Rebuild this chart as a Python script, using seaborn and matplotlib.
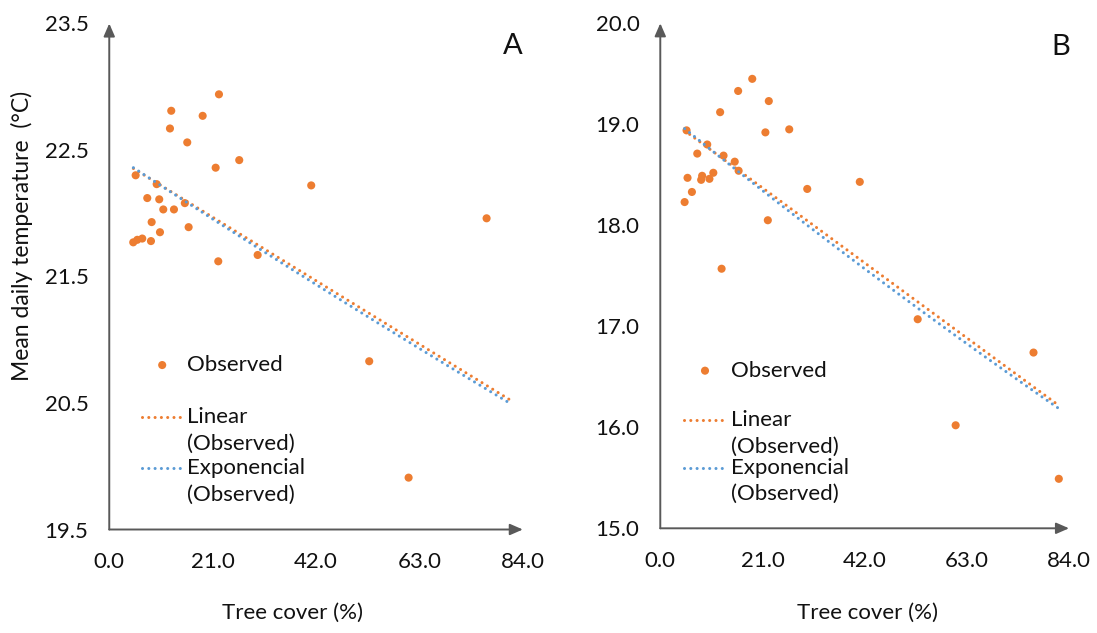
import numpy as np
import pandas as pd
import matplotlib
matplotlib.use("Agg")
import matplotlib.pyplot as plt
import seaborn as sns

# ---- data -------------------------------------------------------------
# Panel A: tree cover (%) and mean daily temperature (°C)
cover_a = [4.87, 5.69, 6.70, 8.47, 5.36, 9.63, 7.72, 10.15, 10.97, 13.14,
           8.61, 10.30, 16.12, 15.35, 12.59, 12.33, 18.97, 15.84, 22.28, 21.61,
           26.40, 30.14, 22.14, 41.02, 76.64, 52.80, 60.80]
temp_a = [21.77, 21.79, 21.80, 21.78, 22.30, 22.23, 22.12, 22.11, 22.03, 22.03,
          21.93, 21.85, 21.89, 22.08, 22.81, 22.67, 22.77, 22.56, 22.94, 22.36,
          22.42, 21.67, 21.62, 22.22, 21.96, 20.83, 19.91]

# Panel B
cover_b = [18.9, 16.0, 22.3, 12.3, 5.4, 21.6, 26.5, 9.65, 7.6, 13.0,
           15.3, 16.1, 10.9, 8.6, 8.4, 10.1, 5.6, 6.5, 5.0, 30.2,
           22.1, 12.6, 52.9, 76.7, 60.7, 81.9, 41.0]
temp_b = [19.45, 19.33, 19.23, 19.12, 18.94, 18.92, 18.95, 18.80, 18.71, 18.69,
          18.63, 18.54, 18.52, 18.49, 18.45, 18.46, 18.47, 18.33, 18.23, 18.36,
          18.05, 17.57, 17.07, 16.74, 16.02, 15.49, 18.43]

# Trendlines: linear y = a + b*x ; exponential y = c * exp(k*x)
linear_a = [22.471, -0.02391]
expo_a = [22.485, -0.001137]
span_a = [4.9, 81.7]
linear_b = [19.114, -0.03538]
expo_b = [19.153, -0.002055]
span_b = [5.0, 81.9]

x_ticks = [0.0, 21.0, 42.0, 63.0, 84.0]
y_ticks_a = [19.5, 20.5, 21.5, 22.5, 23.5]
y_ticks_b = [15.0, 16.0, 17.0, 18.0, 19.0, 20.0]

panel_labels = ["A", "B"]
x_title = "Tree cover (%)"
y_title = "Mean daily temperature  (°C)"
key_labels = ["Observed", "Linear", "(Observed)", "Exponencial", "(Observed)"]

# ---- style --------------------------------------------------------------
sns.set_style("white")
plt.rcParams["font.family"] = ["Lato", "DejaVu Sans"]
ORANGE = "#ED7D31"
BLUE = "#5B9BD5"
AXIS = "#595959"
TICK = "#7f7f7f"
TXT = "#111111"
FS = 16

fig = plt.figure(figsize=(10.97, 6.33), dpi=100)
ax_a = fig.add_axes([0.0996, 0.1635, 0.3770, 0.7994])
ax_b = fig.add_axes([0.6019, 0.1654, 0.3726, 0.7978])

DOT = dict(linestyle=(0, (0.01, 2.05)), dash_capstyle="round", linewidth=2.2)
MS = 34


def draw_panel(ax, cover, temp, lin, expo, span, yticks):
    df = pd.DataFrame({"cover": cover, "temp": temp})
    sns.scatterplot(data=df, x="cover", y="temp", ax=ax, color=ORANGE,
                    s=MS, edgecolor="none", linewidth=0, zorder=2, legend=False)
    xs = np.linspace(span[0], span[1], 200)
    lin_df = pd.DataFrame({"x": xs, "y": lin[0] + lin[1] * xs})
    exp_df = pd.DataFrame({"x": xs, "y": expo[0] * np.exp(expo[1] * xs)})
    sns.lineplot(data=lin_df, x="x", y="y", ax=ax, color=ORANGE, errorbar=None,
                 zorder=3, **DOT)
    sns.lineplot(data=exp_df, x="x", y="y", ax=ax, color=BLUE, errorbar=None,
                 zorder=4, **DOT)

    ax.set_xlim(0, 84)
    ax.set_ylim(yticks[0], yticks[-1])
    ax.set_xticks(x_ticks)
    ax.set_xticklabels([f"{v:.1f}" for v in x_ticks])
    ax.set_yticks(yticks)
    ax.set_yticklabels([f"{v:.1f}" for v in yticks])
    ax.tick_params(axis="both", direction="out", length=5.5, width=1.0,
                   color=TICK, labelsize=FS, labelcolor=TXT, pad=9.5)
    ax.tick_params(axis="x", pad=11)
    for side in ["top", "right", "left", "bottom"]:
        ax.spines[side].set_visible(False)
    ax.set_xlabel("")
    ax.set_ylabel("")
    ax.grid(False)

    arrow = dict(arrowstyle="-|>,head_length=0.55,head_width=0.24",
                 color=AXIS, lw=1.4, shrinkA=0, shrinkB=0, mutation_scale=14)
    ax.annotate("", xy=(0, 1), xytext=(0, 0), xycoords="axes fraction",
                textcoords="axes fraction", arrowprops=arrow,
                annotation_clip=False)
    ax.annotate("", xy=(1, 0), xytext=(0, 0), xycoords="axes fraction",
                textcoords="axes fraction", arrowprops=arrow,
                annotation_clip=False)


def draw_key(ax, mx, my, tx, rows, lx):
    tr = ax.transAxes
    ax.scatter([mx], [my], s=MS, color=ORANGE, edgecolor="none",
               transform=tr, clip_on=False, zorder=5)
    ys = [my] + rows
    for lab, y in zip(key_labels, ys):
        ax.text(tx, y, lab, transform=tr, fontsize=FS, color=TXT,
                ha="left", va="center")
    ax.plot(lx, [rows[0], rows[0]], color=ORANGE, transform=tr,
            clip_on=False, **DOT)
    ax.plot(lx, [rows[2], rows[2]], color=BLUE, transform=tr,
            clip_on=False, **DOT)


draw_panel(ax_a, cover_a, temp_a, linear_a, expo_a, span_a, y_ticks_a)
draw_panel(ax_b, cover_b, temp_b, linear_b, expo_b, span_b, y_ticks_b)

draw_key(ax_a, 0.128, 0.325, 0.1886, [0.2223, 0.169, 0.1221, 0.0682],
         [0.0783, 0.1765])
draw_key(ax_b, 0.1094, 0.3121, 0.1723, [0.2145, 0.1616, 0.1188, 0.0679],
         [0.058, 0.1594])

ax_a.text(0.976, 0.956, panel_labels[0], transform=ax_a.transAxes,
          fontsize=21, ha="center", va="center", color=TXT)
ax_b.text(0.980, 0.953, panel_labels[1], transform=ax_b.transAxes,
          fontsize=21, ha="center", va="center", color=TXT)

ax_a.set_xlabel(x_title, fontsize=FS, color=TXT)
ax_a.xaxis.set_label_coords(0.443, -0.165)
ax_b.set_xlabel(x_title, fontsize=FS, color=TXT)
ax_b.xaxis.set_label_coords(0.506, -0.168)
ax_a.set_ylabel(y_title, fontsize=FS + 0.5, color=TXT)
ax_a.yaxis.set_label_coords(-0.211, 0.58)
for ax in (ax_a, ax_b):
    ax.xaxis.label.set_verticalalignment("center")
    ax.yaxis.label.set_verticalalignment("center")

fig.savefig("out.png", dpi=100, facecolor="white")
